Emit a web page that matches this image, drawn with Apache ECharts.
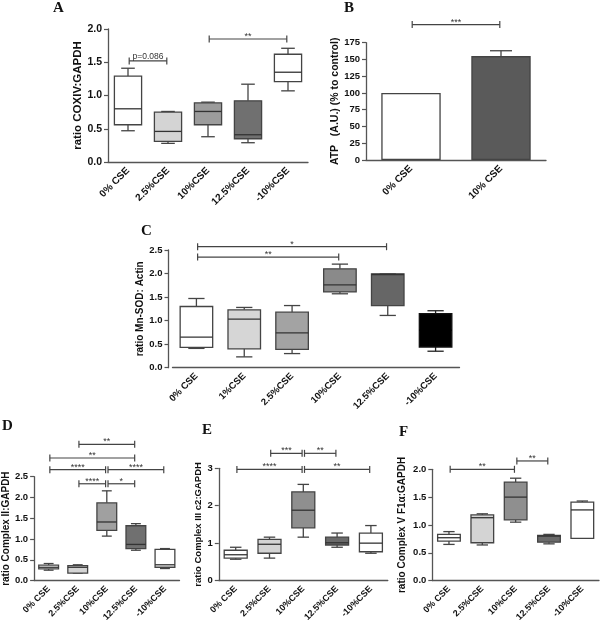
<!DOCTYPE html>
<html><head><meta charset="utf-8">
<script src="https://cdn.jsdelivr.net/npm/echarts@6/dist/echarts.min.js"></script>
<style>html,body{margin:0;padding:0;background:#fff}#c{width:600px;height:624px}</style>
</head><body><div id="c"></div><script>
// ---------- data ----------
const catsA = ['0% CSE','2.5%CSE','10%CSE','12.5%CSE','-10%CSE'];
// [min, Q1, median, Q3, max]
const boxA = [[0.47,0.56,0.80,1.29,1.41],[0.28,0.31,0.46,0.75,0.76],[0.38,0.56,0.76,0.89,0.90],[0.29,0.35,0.41,0.92,1.17],[1.07,1.21,1.35,1.62,1.71]];
const sigA = [[0,1,1.52,'p=0.086'],[2,4,1.85,'**']];
const ticksA = [0,0.5,1.0,1.5,2.0];

const catsB = ['0% CSE','10% CSE'];
const valB = [100,155];
const errB = [0,8];
const sigB = [[0,1,202,'***']];
const ticksB = [0,25,50,75,100,125,150,175];

const catsC = ['0% CSE','1%CSE','2.5%CSE','10%CSE','12.5%CSE','-10%CSE'];
const boxC = [[0.41,0.43,0.65,1.30,1.47],[0.23,0.40,1.03,1.23,1.28],[0.30,0.39,0.74,1.18,1.32],[1.57,1.61,1.76,2.10,2.20],[1.11,1.32,1.98,1.99,1.99],[0.35,0.44,0.80,1.15,1.21]];
const sigC = [[0,4,2.57,'*'],[0,3,2.35,'**']];
const ticksC = [0,0.5,1.0,1.5,2.0,2.5];

const catsD = ['0% CSE','2.5%CSE','10%CSE','12.5%CSE','-10%CSE'];
const boxD = [[0.25,0.28,0.32,0.37,0.41],[0.18,0.18,0.32,0.36,0.38],[1.07,1.21,1.41,1.87,2.16],[0.73,0.77,0.87,1.32,1.37],[0.29,0.32,0.38,0.75,0.77]];
const sigD = [[1,3,3.28,'**'],[0,3,2.95,'**'],[0,2,2.67,'****'],[2,4,2.67,'****'],[1,2,2.33,'****'],[2,3,2.33,'*']];
const ticksD = [0,0.5,1.0,1.5,2.0,2.5];

const catsE = ['0% CSE','2.5%CSE','10%CSE','12.5%CSE','-10%CSE'];
const boxE = [[0.57,0.60,0.69,0.81,0.89],[0.60,0.73,0.97,1.10,1.16],[1.16,1.41,1.88,2.37,2.57],[0.89,0.95,1.01,1.16,1.27],[0.73,0.77,1.00,1.27,1.47]];
const sigE = [[1,2,3.40,'***'],[2,3,3.40,'**'],[0,2,2.97,'****'],[2,4,2.97,'**']];
const ticksE = [0,1,2,3];

const catsF = ['0% CSE','2.5%CSE','10%CSE','12.5%CSE','-10%CSE'];
const boxF = [[0.65,0.71,0.77,0.83,0.88],[0.64,0.68,1.13,1.18,1.20],[1.05,1.09,1.50,1.77,1.84],[0.66,0.69,0.80,0.81,0.83],[0.76,0.76,1.27,1.41,1.43]];
const sigF = [[0,2,2.0,'**'],[2,3,2.15,'**']];
const ticksF = [0,0.5,1.0,1.5,2.0];

// ---------- styles ----------
const FONT = 'Liberation Sans';
const colA = ['#ffffff','#d4d4d4','#9c9c9c','#707070','#ffffff'];
const colB = ['#ffffff','#5a5a5a'];
const colC = ['#ffffff','#d6d6d6','#a3a3a3','#8a8a8a','#666666','#000000'];
const colD = ['#ffffff','#d4d4d4','#a0a0a0','#707070','#ffffff'];
const colE = ['#ffffff','#d4d4d4','#8f8f8f','#6a6a6a','#ffffff'];
const colF = ['#ffffff','#d4d4d4','#8f8f8f','#6a6a6a','#ffffff'];
const AX = '#555';

const grids = [
  {left:108, top:29, width:200, height:133},
  {left:366, top:42.7, width:180, height:117.3},
  {left:172.5, top:250, width:287, height:117.7},
  {left:27.5, top:476.7, width:152, height:104.3},
  {left:218.8, top:468.3, width:169, height:112.4},
  {left:432.3, top:469.3, width:166.7, height:112.4}
];

function xAx(gi, cats, fs){
  return {type:'category', gridIndex:gi, data:cats, boundaryGap:true,
    axisLine:{lineStyle:{color:AX, width:1.3}},
    axisTick:{alignWithLabel:true, length:4, lineStyle:{color:AX, width:1.2}},
    axisLabel:{rotate:45, margin:7, fontFamily:FONT, fontWeight:'bold', fontSize:fs, color:'#111', interval:0}};
}
function yAx(gi, ticks, name, nameFs, gap, dec, fs, offset){
  return {type:'value', gridIndex:gi, min:ticks[0], max:ticks[ticks.length-1], interval:ticks[1]-ticks[0],
    offset:offset||0,
    name:name, nameLocation:'middle', nameGap:gap, nameRotate:90,
    nameTextStyle:{fontFamily:FONT, fontWeight:'bold', fontSize:nameFs, color:'#111'},
    axisLine:{show:true, lineStyle:{color:AX, width:1.3}},
    axisTick:{show:true, length:4, lineStyle:{color:AX, width:1.2}},
    splitLine:{show:false},
    axisLabel:{margin:6, fontFamily:FONT, fontWeight:'bold', fontSize:fs, color:'#111',
      formatter:v=>v.toFixed(dec)}};
}

function boxSeries(gi, data, colors){
  return {type:'custom', xAxisIndex:gi, yAxisIndex:gi, clip:false, silent:true,
    data: data.map((d,i)=>[i].concat(d)),
    encode:{x:0, y:[1,2,3,4,5]},
    renderItem:function(params, api){
      const i = api.value(0);
      const cx = api.coord([i,0])[0];
      const bw = api.size([1,0])[0]*0.68;
      const cw = bw*0.5;
      const y = [1,2,3,4,5].map(k=>api.coord([i, api.value(k)])[1]);
      const col = colors[params.dataIndex];
      const dark = col === '#000000';
      const ln = {stroke: dark ? '#222' : '#444', lineWidth:1.3};
      const med = {stroke: dark ? '#000' : '#333', lineWidth:1.3};
      return {type:'group', children:[
        {type:'line', shape:{x1:cx,y1:y[4],x2:cx,y2:y[3]}, style:ln},
        {type:'line', shape:{x1:cx,y1:y[1],x2:cx,y2:y[0]}, style:ln},
        {type:'line', shape:{x1:cx-cw/2,y1:y[4],x2:cx+cw/2,y2:y[4]}, style:ln},
        {type:'line', shape:{x1:cx-cw/2,y1:y[0],x2:cx+cw/2,y2:y[0]}, style:ln},
        {type:'rect', shape:{x:cx-bw/2,y:y[3],width:bw,height:y[1]-y[3]}, style:{fill:col, stroke: dark ? '#111' : '#444', lineWidth:1.3}},
        {type:'line', shape:{x1:cx-bw/2,y1:y[2],x2:cx+bw/2,y2:y[2]}, style:med}
      ]};
    }};
}

function sigSeries(gi, sig){
  return {type:'custom', xAxisIndex:gi, yAxisIndex:gi, clip:false, silent:true,
    data: sig.map(s=>[s[0], s[2]]),
    encode:{x:0, y:1},
    renderItem:function(params, api){
      const s = sig[params.dataIndex];
      const p1 = api.coord([s[0], s[2]]);
      const p2 = api.coord([s[1], s[2]]);
      const x1 = p1[0]+1.2, x2 = p2[0]-1.2, y = p1[1];
      const ln = {stroke:'#444', lineWidth:1.2};
      const isStar = s[3].indexOf('*')===0;
      return {type:'group', children:[
        {type:'line', shape:{x1:x1,y1:y,x2:x2,y2:y}, style:ln},
        {type:'line', shape:{x1:x1,y1:y-3.5,x2:x1,y2:y+3.5}, style:ln},
        {type:'line', shape:{x1:x2,y1:y-3.5,x2:x2,y2:y+3.5}, style:ln},
        {type:'text', style:{text:s[3], x:(x1+x2)/2, y: isStar ? y-2.5 : y-4.5,
          textAlign:'center', textVerticalAlign:'middle',
          font: isStar ? '9px "Liberation Sans"' : '8.5px "Liberation Sans"', fill:'#333'}}
      ]};
    }};
}

function errSeries(gi, vals, errs){
  return {type:'custom', xAxisIndex:gi, yAxisIndex:gi, clip:false, silent:true, z:1,
    data: vals.map((v,i)=>[i, v, v+errs[i]]),
    encode:{x:0, y:[1,2]},
    renderItem:function(params, api){
      const i = api.value(0);
      if (errs[params.dataIndex] <= 0) return;
      const p1 = api.coord([i, api.value(1)]);
      const p2 = api.coord([i, api.value(2)]);
      const ln = {stroke:'#444', lineWidth:1.3};
      return {type:'group', children:[
        {type:'line', shape:{x1:p1[0],y1:p1[1],x2:p2[0],y2:p2[1]}, style:ln},
        {type:'line', shape:{x1:p2[0]-11,y1:p2[1],x2:p2[0]+11,y2:p2[1]}, style:ln}
      ]};
    }};
}

function panelLabel(t, x, y){
  return {type:'text', x:x, y:y, style:{text:t, font:'bold 15px "Liberation Serif"', fill:'#111', textVerticalAlign:'top'}};
}

const option = {
  animation:false,
  backgroundColor:'#fff',
  grid: grids,
  xAxis: [
    xAx(0, catsA, 10), xAx(1, catsB, 10), xAx(2, catsC, 9.5),
    xAx(3, catsD, 9), xAx(4, catsE, 9), xAx(5, catsF, 9)
  ],
  yAxis: [
    yAx(0, ticksA, 'ratio COXIV:GAPDH', 11.5, 21, 1, 10.5),
    yAx(1, ticksB, 'ATP   (A.U.) (% to control)', 10.5, 24, 0, 9.5),
    yAx(2, ticksC, 'ratio Mn-SOD: Actin', 10, 19, 1, 9.5, 4),
    yAx(3, ticksD, 'ratio Complex II:GAPDH', 10, 18, 1, 9.5),
    yAx(4, ticksE, 'ratio Complex III c2:GAPDH', 9.5, 13, 0, 9.5),
    yAx(5, ticksF, 'ratio Complex V F1\u03B1:GAPDH', 10, 25, 1, 9.5)
  ],
  series: [
    boxSeries(0, boxA, colA), sigSeries(0, sigA),
    {type:'bar', xAxisIndex:1, yAxisIndex:1, barWidth:'66%', z:2, silent:true,
      data: valB.map((v,i)=>({value:v, itemStyle:{color:colB[i], borderColor:'#444', borderWidth:1.3}}))},
    errSeries(1, valB, errB), sigSeries(1, sigB),
    boxSeries(2, boxC, colC), sigSeries(2, sigC),
    boxSeries(3, boxD, colD), sigSeries(3, sigD),
    boxSeries(4, boxE, colE), sigSeries(4, sigE),
    boxSeries(5, boxF, colF), sigSeries(5, sigF)
  ],
  graphic: [
    panelLabel('A', 53, 1), panelLabel('B', 344, 1), panelLabel('C', 141, 224),
    panelLabel('D', 2, 419), panelLabel('E', 202, 423), panelLabel('F', 399, 425)
  ]
};
const chart = echarts.init(document.getElementById('c'), null, {renderer:'canvas'});
chart.setOption(option);
</script></body></html>
